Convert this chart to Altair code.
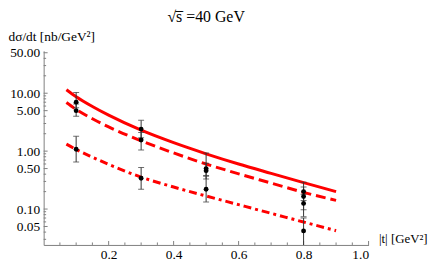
import altair as alt
import pandas as pd

# ---- data ----
curve_t = [0.07, 0.1, 0.15, 0.2, 0.3, 0.4, 0.5, 0.6, 0.7, 0.8, 0.9]
solid = [11.5, 8.7, 5.9, 4.18, 2.30, 1.40, 0.90, 0.60, 0.413, 0.286, 0.200]
dashed = [6.9, 5.24, 3.62, 2.62, 1.51, 0.93, 0.60, 0.406, 0.281, 0.194, 0.141]
dashdot = [1.32, 1.07, 0.787, 0.59, 0.356, 0.240, 0.168, 0.119, 0.0843, 0.0597, 0.0423]

pt_t = [0.1, 0.1, 0.1, 0.3, 0.3, 0.3, 0.5, 0.5, 0.5, 0.8, 0.8, 0.8, 0.8]
pt_y = [7.0, 5.0, 1.08, 2.4, 1.56, 0.34, 0.50, 0.46, 0.22, 0.20, 0.165, 0.125, 0.042]
pt_lo = [5.6, 4.0, 0.65, 1.7, 1.05, 0.22, 0.38, 0.33, 0.133, 0.14, 0.097, 0.074, 0.015]
pt_hi = [10.3, 6.5, 1.8, 3.4, 2.1, 0.52, 0.93, 0.62, 0.37, 0.29, 0.24, 0.18, 0.070]

x_major = [0.2, 0.4, 0.6, 0.8, 1.0]
x_minor = [0.05, 0.1, 0.15, 0.25, 0.3, 0.35, 0.45, 0.5, 0.55, 0.65, 0.7, 0.75, 0.85, 0.9, 0.95]
y_major = [0.05, 0.1, 0.5, 1, 5, 10, 50]
y_minor = [0.03, 0.04, 0.06, 0.07, 0.08, 0.09, 0.2, 0.3, 0.4, 0.6, 0.7, 0.8, 0.9,
           2, 3, 4, 6, 7, 8, 9, 20, 30, 40]

title_text = "\u221as\u0305 =40 GeV"
x_title = "|t| [GeV\u00b2]"
y_title = "d\u03c3/dt [nb/GeV\u00b2]"

# ---- chart ----
W, H = 328, 196
FONT = "Liberation Serif, Times New Roman, serif"
FS = 13.5
AX = "#808080"
RED = "#ff0000"

xs = alt.Scale(domain=[0, 1.0], nice=False, zero=False)
ys = alt.Scale(type="log", domain=[0.024, 54], nice=False)

curves = pd.DataFrame({"t": curve_t, "solid": solid, "dashed": dashed, "dashdot": dashdot})
pts = pd.DataFrame({"t": pt_t, "y": pt_y, "lo": pt_lo, "hi": pt_hi})

xaxis = alt.Axis(values=x_major, format=".1f", ticks=False, grid=False, domainColor=AX,
                 domainWidth=1, labelFont=FONT, labelFontSize=FS, labelColor="black",
                 labelPadding=3, title=x_title, titleFont=FONT, titleFontSize=13,
                 titleFontWeight="normal", titleColor="black", titleAngle=0,
                 titleAlign="left", titleBaseline="middle", titleX=338, titleY=-6)
yaxis = alt.Axis(values=y_major, format=".2f", ticks=False, grid=False, domainColor=AX,
                 domainWidth=1, labelFont=FONT, labelFontSize=FS, labelColor="black",
                 labelPadding=4, title=y_title, titleFont=FONT, titleFontSize=FS,
                 titleFontWeight="normal", titleColor="black", titleAngle=0,
                 titleAlign="left", titleBaseline="middle", titleX=-36, titleY=-14)

base = alt.Chart(curves)
l_solid = base.mark_line(color=RED, strokeWidth=3, interpolate="monotone", clip=True).encode(
    x=alt.X("t:Q", scale=xs, axis=xaxis), y=alt.Y("solid:Q", scale=ys, axis=yaxis))
l_dash = base.mark_line(color=RED, strokeWidth=3, strokeDash=[10, 5], interpolate="monotone",
                        clip=True).encode(x=alt.X("t:Q", scale=xs), y=alt.Y("dashed:Q", scale=ys))
l_dd = base.mark_line(color=RED, strokeWidth=3, strokeDash=[8, 4, 3, 4], interpolate="monotone",
                      clip=True).encode(x=alt.X("t:Q", scale=xs), y=alt.Y("dashdot:Q", scale=ys))

pbase = alt.Chart(pts)
err = pbase.mark_rule(color="#333333", strokeWidth=1, clip=True).encode(
    x=alt.X("t:Q", scale=xs), y=alt.Y("lo:Q", scale=ys), y2="hi:Q")
cap_lo = pbase.mark_tick(color="#333333", orient="horizontal", size=6, thickness=1, clip=True).encode(
    x=alt.X("t:Q", scale=xs), y=alt.Y("lo:Q", scale=ys))
cap_hi = pbase.mark_tick(color="#333333", orient="horizontal", size=6, thickness=1, clip=True).encode(
    x=alt.X("t:Q", scale=xs), y=alt.Y("hi:Q", scale=ys))
dots = pbase.mark_circle(color="black", size=24, opacity=1).encode(
    x=alt.X("t:Q", scale=xs), y=alt.Y("y:Q", scale=ys))

xmaj = alt.Chart(pd.DataFrame({"v": x_major})).mark_rule(color=AX).encode(
    x=alt.X("v:Q", scale=xs), y=alt.value(H), y2=alt.value(H - 4))
xmin = alt.Chart(pd.DataFrame({"v": x_minor})).mark_rule(color=AX).encode(
    x=alt.X("v:Q", scale=xs), y=alt.value(H), y2=alt.value(H - 2.5))
ymaj = alt.Chart(pd.DataFrame({"v": y_major})).mark_rule(color=AX).encode(
    y=alt.Y("v:Q", scale=ys), x=alt.value(0), x2=alt.value(4))
ymin = alt.Chart(pd.DataFrame({"v": y_minor})).mark_rule(color=AX).encode(
    y=alt.Y("v:Q", scale=ys), x=alt.value(0), x2=alt.value(2.5))

chart = alt.layer(l_solid, l_dash, l_dd, xmaj, xmin, ymaj, ymin, err, cap_lo, cap_hi, dots).properties(
    width=W, height=H,
    padding={"left": 36, "top": 42, "right": 60, "bottom": 16},
    autosize=alt.AutoSizeParams(type="none"),
    title=alt.TitleParams(text=title_text, font=FONT, fontSize=16, fontWeight="normal",
                          color="black", anchor="middle", baseline="bottom", offset=0, dy=11),
).configure_view(stroke=None)

chart.save("out.html", embed_options={"renderer": "svg", "actions": False})
